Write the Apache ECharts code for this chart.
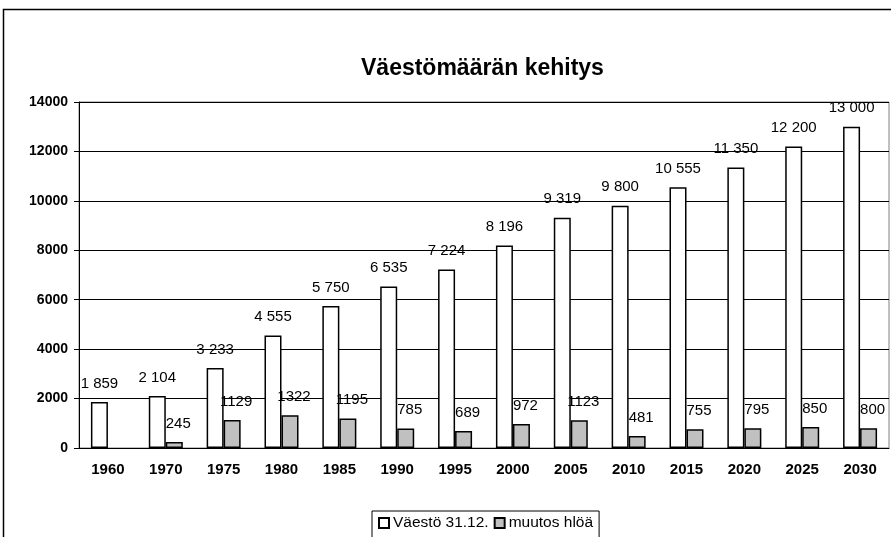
<!DOCTYPE html>
<html>
<head>
<meta charset="utf-8">
<script src="https://cdn.jsdelivr.net/npm/echarts@6/dist/echarts.min.js"></script>
<style>
  html, body { margin: 0; padding: 0; background: #fff; }
  #chart { width: 891px; height: 537px; }
</style>
</head>
<body>
<div id="chart"></div>
<script>
// vuodet
const years = ['1960', '1970', '1975', '1980', '1985', '1990', '1995', '2000', '2005', '2010', '2015', '2020', '2025', '2030']
// väestö 31.12.
const population = [1859, 2104, 3233, 4555, 5750, 6535, 7224, 8196, 9319, 9800, 10555, 11350, 12200, 13000]
// muutos hlöä
const change = [null, 245, 1129, 1322, 1195, 785, 689, 972, 1123, 481, 755, 795, 850, 800]
const yTicks = [0, 2000, 4000, 6000, 8000, 10000, 12000, 14000]

const fontFam = 'Liberation Sans, Arial, sans-serif'

// 1859 -> "1 859"
function spaced(v) {
  return String(v).replace(/\B(?=(\d{3})+(?!\d))/g, ' ')
}

const myChart = echarts.init(document.getElementById('chart'))
myChart.setOption({
  animation: false,
  textStyle: { fontFamily: fontFam },
  title: {
    text: 'Väestömäärän kehitys',
    left: 361,
    top: 57,
    padding: 0,
    textStyle: { fontSize: 23, fontWeight: 'bold', color: '#000', fontFamily: fontFam }
  },
  graphic: [
    {
      type: 'rect',
      shape: { x: 3.5, y: 9.5, width: 1000, height: 600 },
      style: { fill: 'none', stroke: '#000', lineWidth: 1.5 },
      silent: true,
      z: -1
    }
  ],
  legend: {
    top: 511,
    left: 372,
    padding: [4, 6, 14, 6],
    borderColor: '#000',
    borderWidth: 1,
    itemWidth: 10,
    itemHeight: 10,
    itemGap: 5,
    icon: 'rect',
    textStyle: { fontSize: 15.5, color: '#000', fontFamily: fontFam, padding: [0, 0, 0, -1] },
    data: ['Väestö 31.12.', 'muutos hlöä']
  },
  grid: {
    left: 79,
    right: 2,
    top: 102,
    bottom: 89,
    show: true,
    borderColor: '#808080',
    borderWidth: 1
  },
  xAxis: {
    type: 'category',
    data: years,
    axisLine: { lineStyle: { color: '#000', width: 1 } },
    axisTick: { length: 5, lineStyle: { color: '#000' } },
    axisLabel: { margin: 14, fontSize: 15, fontWeight: 'bold', color: '#000', fontFamily: fontFam }
  },
  yAxis: {
    type: 'value',
    min: yTicks[0],
    max: yTicks[yTicks.length - 1],
    interval: 2000,
    axisLine: { show: true, lineStyle: { color: '#000', width: 1 } },
    axisTick: { show: true, length: 5, lineStyle: { color: '#000' } },
    axisLabel: {
      margin: 11, fontSize: 14, fontWeight: 'bold', color: '#000', fontFamily: fontFam,
      formatter: v => String(v)
    },
    splitLine: { lineStyle: { color: '#000', width: 1 } }
  },
  series: [
    {
      name: 'Väestö 31.12.',
      type: 'bar',
      data: population,
      barWidth: 17,
      barGap: '0%',
      itemStyle: { color: '#fff', borderColor: '#000', borderWidth: 1.5 },
      label: {
        show: true,
        position: 'top',
        distance: 11,
        fontSize: 15,
        color: '#000',
        fontFamily: fontFam,
        formatter: p => spaced(p.value)
      }
    },
    {
      name: 'muutos hlöä',
      type: 'bar',
      data: change,
      barWidth: 17,
      itemStyle: { color: '#c0c0c0', borderColor: '#000', borderWidth: 1.5 },
      label: {
        show: true,
        position: 'top',
        distance: 11,
        offset: [4, 0],
        fontSize: 15,
        color: '#000',
        fontFamily: fontFam
      }
    }
  ]
})
</script>
</body>
</html>
